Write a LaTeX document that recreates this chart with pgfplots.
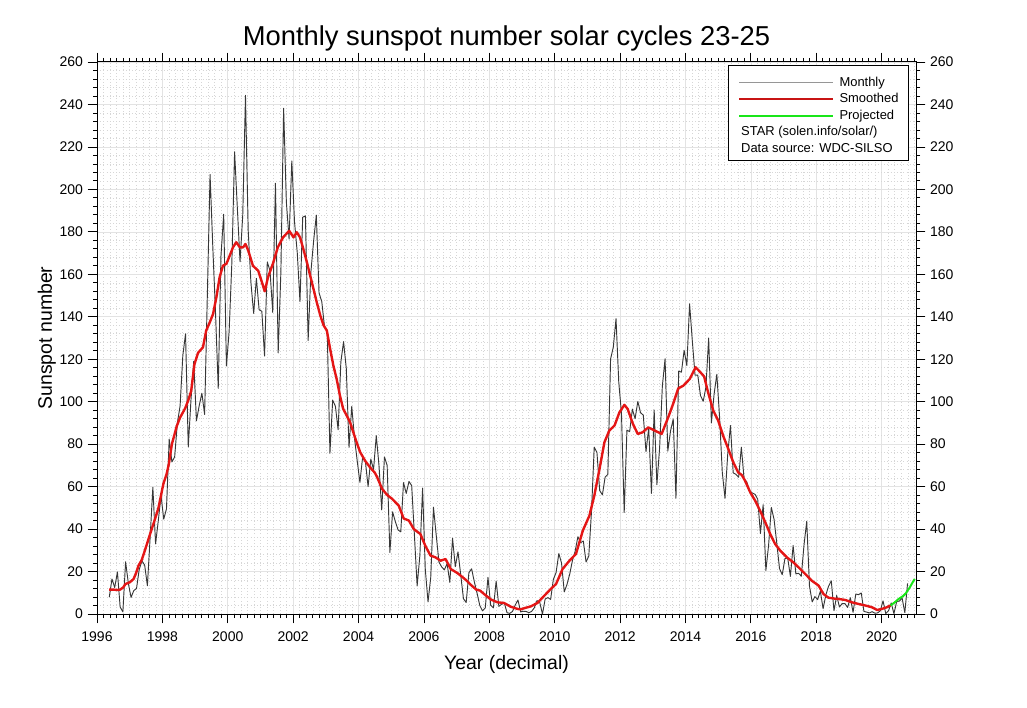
\documentclass[border=0pt]{standalone}
\usepackage{fontspec}
\setmainfont{Liberation Sans}
\usepackage{pgfplots}
\usepackage{pgfplotstable}
\pgfplotsset{compat=1.18}

\definecolor{sunmonthly}{RGB}{55,55,55}
\definecolor{sunmonthlyleg}{RGB}{150,150,150}
\definecolor{sunsmooth}{RGB}{228,22,22}
\definecolor{sunsmoothleg}{RGB}{200,20,20}
\definecolor{sunproj}{RGB}{25,230,25}

% monthly mean total sunspot number, May 1996 .. Oct 2020
\pgfplotstableread[row sep=\\]{
sn\\
7.9\\ 16.5\\ 12.5\\ 19.8\\ 3.3\\ 1.0\\ 24.6\\ 14.5\\
7.8\\ 11.0\\ 12.0\\ 21.0\\ 25.0\\ 23.0\\ 13.3\\ 36.0\\ 59.7\\ 33.0\\ 44.0\\ 55.7\\
44.7\\ 49.5\\ 82.4\\ 71.6\\ 74.0\\ 90.0\\ 98.0\\ 121.7\\ 132.0\\ 78.7\\ 101.0\\ 119.0\\
91.0\\ 98.0\\ 104.0\\ 94.0\\ 150.0\\ 207.0\\ 173.0\\ 142.0\\ 106.3\\ 168.7\\ 188.3\\ 116.8\\
133.1\\ 165.7\\ 217.7\\ 191.5\\ 165.9\\ 188.0\\ 244.3\\ 180.5\\ 156.0\\ 141.6\\ 158.1\\ 143.3\\
142.6\\ 121.5\\ 165.8\\ 161.7\\ 142.1\\ 202.9\\ 123.0\\ 161.5\\ 238.2\\ 194.1\\ 176.6\\ 213.4\\
184.6\\ 170.2\\ 147.1\\ 186.9\\ 187.5\\ 128.8\\ 161.0\\ 175.6\\ 187.9\\ 151.2\\ 147.2\\ 135.3\\
133.5\\ 75.7\\ 100.7\\ 97.9\\ 86.8\\ 118.7\\ 128.3\\ 115.6\\ 78.5\\ 97.8\\ 82.9\\ 72.2\\
62.0\\ 74.0\\ 72.0\\ 60.0\\ 73.0\\ 68.0\\ 84.0\\ 70.0\\ 49.0\\ 74.0\\ 70.0\\ 29.0\\
48.1\\ 43.5\\ 39.6\\ 38.7\\ 61.9\\ 56.8\\ 62.4\\ 60.5\\ 37.2\\ 13.2\\ 27.5\\ 59.3\\
20.9\\ 5.7\\ 17.3\\ 50.3\\ 37.2\\ 24.5\\ 22.2\\ 20.8\\ 23.7\\ 14.9\\ 35.7\\ 22.3\\
29.3\\ 18.4\\ 7.2\\ 5.4\\ 19.5\\ 21.3\\ 15.1\\ 9.8\\ 4.0\\ 1.5\\ 2.8\\ 17.3\\
4.1\\ 2.9\\ 15.5\\ 3.6\\ 4.6\\ 5.2\\ 0.6\\ 0.3\\ 1.2\\ 4.2\\ 6.6\\ 1.0\\
1.3\\ 1.2\\ 0.6\\ 1.2\\ 2.9\\ 6.3\\ 5.5\\ 0.0\\ 7.1\\ 7.7\\ 6.9\\ 16.3\\
19.5\\ 28.5\\ 24.0\\ 10.4\\ 13.9\\ 18.8\\ 25.2\\ 29.6\\ 36.4\\ 33.6\\ 34.4\\ 24.5\\
27.3\\ 48.3\\ 78.6\\ 76.1\\ 58.2\\ 56.1\\ 64.5\\ 65.8\\ 120.1\\ 125.7\\ 139.1\\ 109.3\\
94.4\\ 47.8\\ 86.6\\ 85.9\\ 96.5\\ 92.0\\ 100.1\\ 94.8\\ 93.7\\ 76.5\\ 87.6\\ 56.8\\
96.1\\ 60.9\\ 78.3\\ 107.3\\ 120.2\\ 76.7\\ 86.2\\ 91.8\\ 54.5\\ 114.4\\ 113.9\\ 124.2\\
117.0\\ 146.1\\ 128.7\\ 112.5\\ 112.5\\ 102.9\\ 100.2\\ 106.9\\ 130.0\\ 90.0\\ 103.6\\ 112.9\\
93.0\\ 66.7\\ 54.5\\ 75.3\\ 88.8\\ 66.5\\ 65.8\\ 64.4\\ 78.6\\ 63.6\\ 62.2\\ 58.0\\
57.0\\ 56.4\\ 54.1\\ 37.9\\ 51.5\\ 20.5\\ 32.4\\ 50.2\\ 44.6\\ 33.4\\ 21.4\\ 18.5\\
26.1\\ 26.4\\ 17.7\\ 32.3\\ 18.9\\ 19.2\\ 17.8\\ 32.6\\ 43.7\\ 13.2\\ 5.7\\ 8.2\\
6.8\\ 10.7\\ 2.5\\ 8.9\\ 13.1\\ 15.6\\ 1.6\\ 8.7\\ 3.3\\ 4.9\\ 4.9\\ 3.1\\
7.7\\ 0.8\\ 9.4\\ 9.1\\ 9.9\\ 1.2\\ 0.9\\ 0.5\\ 1.1\\ 0.4\\ 0.5\\ 1.5\\
6.2\\ 0.2\\ 1.5\\ 5.2\\ 0.2\\ 5.8\\ 6.1\\ 7.5\\ 0.6\\ 14.4\\
}\monthly

% 13-month smoothed
\pgfplotstableread[row sep=\\]{
yr sn\\
1996.37 11.5\\ 1996.50 11.5\\ 1996.62 11.3\\ 1996.71 11.5\\ 1996.80 12.5\\ 1996.87 14.1\\
1997.01 15.0\\ 1997.12 16.5\\ 1997.20 19.5\\ 1997.27 22.8\\ 1997.37 25.5\\ 1997.52 32.6\\
1997.62 37.5\\ 1997.78 45.0\\ 1997.88 50.0\\ 1998.03 61.3\\ 1998.13 66.0\\ 1998.20 70.8\\
1998.29 80.0\\ 1998.44 88.5\\ 1998.54 92.5\\ 1998.70 97.0\\ 1998.80 101.0\\ 1998.88 105.0\\
1998.98 117.6\\ 1999.09 123.0\\ 1999.24 125.6\\ 1999.34 133.5\\ 1999.45 137.4\\ 1999.55 141.3\\
1999.65 149.0\\ 1999.75 158.6\\ 1999.85 164.0\\ 1999.96 165.0\\ 2000.06 168.8\\ 2000.16 172.7\\
2000.26 175.1\\ 2000.37 172.7\\ 2000.47 172.7\\ 2000.54 174.3\\ 2000.63 171.0\\ 2000.77 164.0\\
2000.93 161.7\\ 2001.03 157.0\\ 2001.13 152.0\\ 2001.23 158.6\\ 2001.38 165.0\\ 2001.53 172.7\\
2001.69 177.4\\ 2001.88 180.5\\ 2002.01 177.4\\ 2002.11 179.8\\ 2002.21 177.4\\ 2002.31 172.0\\
2002.42 165.7\\ 2002.52 159.4\\ 2002.62 153.2\\ 2002.72 146.9\\ 2002.83 140.6\\ 2002.93 136.0\\
2003.03 133.5\\ 2003.13 124.9\\ 2003.23 117.0\\ 2003.33 110.7\\ 2003.43 102.9\\ 2003.53 96.6\\
2003.64 93.4\\ 2003.74 90.3\\ 2003.84 85.6\\ 2003.94 80.9\\ 2004.05 76.2\\ 2004.20 72.2\\
2004.35 69.1\\ 2004.50 66.5\\ 2004.57 64.4\\ 2004.72 58.9\\ 2004.88 56.0\\ 2005.03 54.2\\
2005.23 51.0\\ 2005.38 45.0\\ 2005.54 44.0\\ 2005.69 40.0\\ 2005.89 37.7\\ 2006.04 32.2\\
2006.20 27.5\\ 2006.35 26.7\\ 2006.51 25.1\\ 2006.66 25.9\\ 2006.82 21.2\\ 2007.02 19.3\\
2007.17 17.5\\ 2007.30 15.8\\ 2007.45 13.5\\ 2007.60 11.5\\ 2007.72 11.0\\ 2007.84 9.4\\
2008.05 6.8\\ 2008.25 5.5\\ 2008.45 5.2\\ 2008.66 3.4\\ 2008.86 2.4\\ 2008.96 2.2\\
2009.06 2.7\\ 2009.27 3.6\\ 2009.47 5.2\\ 2009.68 8.6\\ 2009.88 11.8\\ 2010.04 14.1\\
2010.24 21.2\\ 2010.45 25.1\\ 2010.65 28.3\\ 2010.86 39.3\\ 2011.06 46.3\\ 2011.21 55.7\\
2011.37 68.3\\ 2011.52 80.9\\ 2011.67 86.4\\ 2011.83 88.8\\ 2011.98 95.0\\ 2012.13 98.5\\
2012.23 96.6\\ 2012.39 89.6\\ 2012.54 84.8\\ 2012.69 85.6\\ 2012.86 87.9\\ 2013.06 86.4\\
2013.27 84.8\\ 2013.47 92.6\\ 2013.62 98.9\\ 2013.78 106.3\\ 2013.93 107.5\\ 2014.13 110.7\\
2014.31 116.2\\ 2014.44 114.1\\ 2014.57 111.9\\ 2014.69 104.4\\ 2014.85 95.8\\ 2015.00 91.1\\
2015.15 84.0\\ 2015.31 77.7\\ 2015.46 71.5\\ 2015.61 66.7\\ 2015.72 65.5\\ 2015.82 62.8\\
2015.98 57.3\\ 2016.13 53.4\\ 2016.28 48.7\\ 2016.44 43.2\\ 2016.59 37.7\\ 2016.74 33.0\\
2016.90 29.8\\ 2017.10 26.7\\ 2017.30 24.3\\ 2017.51 21.2\\ 2017.71 18.1\\ 2017.86 15.7\\
2018.07 13.4\\ 2018.22 9.4\\ 2018.37 7.7\\ 2018.58 7.2\\ 2018.68 7.1\\ 2018.89 6.6\\
2019.09 5.5\\ 2019.30 4.7\\ 2019.50 4.0\\ 2019.70 3.2\\ 2019.86 1.9\\ 2020.01 2.4\\
2020.16 3.2\\ 2020.27 4.0\\
}\smoothed

\pgfplotstableread[row sep=\\]{
yr sn\\
2020.27 4.0\\ 2020.40 5.5\\ 2020.52 7.1\\ 2020.65 8.4\\ 2020.73 9.6\\ 2020.85 12.3\\
2020.95 15.0\\ 2021.01 16.5\\
}\projected

\pgfplotsset{
  sunframe/.style={
    at={(72.75pt,69.75pt)}, anchor=south west,
    scale only axis, width=614.25pt, height=414pt,
    xmin=1996, xmax=2021.05, ymin=0, ymax=260,
    xtick distance=2, ytick distance=20,
    minor x tick num=9, minor y tick num=4,
    tick align=outside,
    major tick length=7pt, minor tick length=3pt,
    tick style={black, line width=0.6pt},
    axis line style={line width=0.75pt},
    ticklabel style={font=\fontsize{10.5}{12}\selectfont},
    xticklabel style={yshift=-3pt},
    /pgf/number format/assume math mode=true,
    /pgf/number format/1000 sep={},
  },
}

\begin{document}
\begin{tikzpicture}
\path[use as bounding box] (0,0) rectangle (770.25pt,530.25pt);

\begin{axis}[sunframe,
  grid=both,
  major grid style={gray!22, line width=0.5pt},
  minor grid style={gray!32, dotted, line width=0.4pt},
  yticklabel pos=left,
  title={Monthly sunspot number solar cycles 23-25},
  title style={font=\fontsize{20.5}{24}\selectfont, at={(0.5,1)}, anchor=base, yshift=6.5pt},
  xlabel={Year (decimal)},
  xlabel style={font=\fontsize{14.6}{17}\selectfont, at={(0.5,0)}, anchor=base, yshift=-41.25pt},
  ylabel={Sunspot number},
  every axis y label/.style={at={(0,0.5)}, xshift=-33.75pt, rotate=90, anchor=base,
    font=\fontsize{14.6}{17}\selectfont},
  legend image code/.code={\draw[#1] (0pt,2.7pt) -- (70.5pt,2.7pt);},
  legend style={at={(1,1)}, anchor=north east, xshift=-5.25pt, yshift=-2.25pt,
    draw=black, line width=0.75pt, fill=white,
    font=\fontsize{9.7}{11}\selectfont,
    inner xsep=7.5pt, inner ysep=4pt, row sep=-1.2pt, column sep=3.75pt,
    nodes={inner sep=0pt, text height=11.5pt, text depth=2.1pt},
    cells={anchor=base west}},
]
\addplot[sunmonthly, line width=0.7pt, line join=round, forget plot]
  table[x expr={1996.375+\coordindex/12}, y=sn] {\monthly};
\addplot[sunsmooth, line width=1.8pt, line join=round, forget plot]
  table[x=yr, y=sn] {\smoothed};
\addplot[sunproj, line width=1.5pt, line join=round, forget plot]
  table[x=yr, y=sn] {\projected};

\addlegendimage{sunmonthlyleg, line width=1.4pt}
\addlegendentry{Monthly}
\addlegendimage{sunsmoothleg, line width=1.6pt}
\addlegendentry{Smoothed}
\addlegendimage{sunproj, line width=1.6pt}
\addlegendentry{Projected}
\addlegendimage{empty legend}
\addlegendentry{\makebox[0pt][l]{\hspace*{-74.25pt}STAR (solen.info/solar/)}}
\addlegendimage{empty legend}
\addlegendentry{\makebox[0pt][l]{\hspace*{-74.25pt}Data source: WDC-SILSO}}
\end{axis}

% right-hand tick labels
\begin{axis}[sunframe, hide x axis, axis y line*=right, yticklabel pos=right]
\addplot[draw=none] coordinates {(2000,0)};
\end{axis}
\end{tikzpicture}
\end{document}
